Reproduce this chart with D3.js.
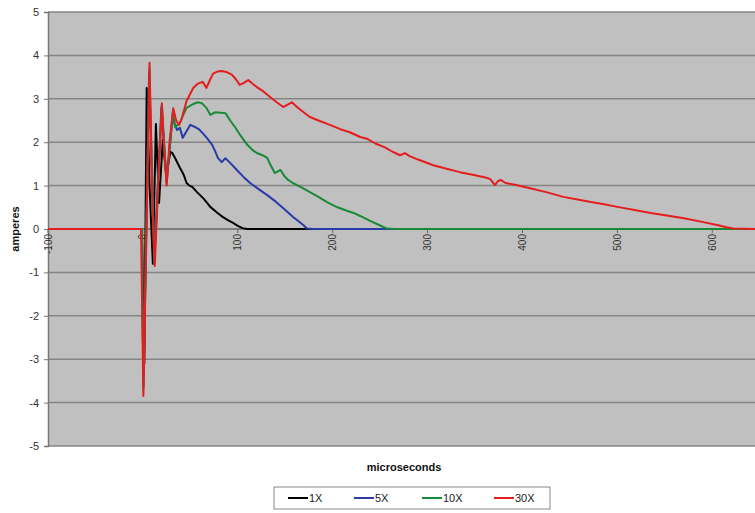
<!DOCTYPE html>
<html><head><meta charset="utf-8">
<script src="https://cdn.jsdelivr.net/npm/d3@7"></script>
<style>body{margin:0;background:#fff;} text{font-family:"Liberation Sans",Arial,sans-serif;}</style>
</head><body><svg id="c" width="755" height="513"></svg>
<script>
// ---- data (microseconds, amperes) ----
const seriesNames = ["1X", "5X", "10X", "30X"];
const seriesColors = ["#000000", "#2a3aa8", "#178a35", "#e41e1e"];
const xTicks = [-100, 0, 100, 200, 300, 400, 500, 600];
const yTicks = [-5, -4, -3, -2, -1, 0, 1, 2, 3, 4, 5];

const t1x = [-100,-1,1.5,4,7,10.5,13.7,17,21,24.5,29,31,34,39,43,46,49,52,57,64,71,78,84,90,95,100,105,110,650];
const a1x = [0,0,-3.1,3.25,1.0,-0.8,2.42,0.6,2.05,1.25,1.78,1.75,1.63,1.41,1.25,1.06,1.0,0.97,0.85,0.7,0.51,0.38,0.28,0.2,0.14,0.07,0.02,0,0];

const t5x = [-100,-1,0.5,6.5,12,19.5,25,31,33,36,39,42,46,50,55,59,63,68,73,76,79,83,87,93,99,106,113,122,131,140,148,153,158,164,169,173,180,650];
const a5x = [0,0,-3.6,3.6,-0.7,2.8,1.1,2.5,2.45,2.28,2.33,2.1,2.25,2.4,2.35,2.3,2.21,2.08,1.94,1.8,1.64,1.54,1.63,1.5,1.36,1.2,1.06,0.92,0.78,0.63,0.48,0.38,0.28,0.18,0.09,0.01,0,0];

const t10x = [-100,-1,0.5,6.8,12,20,25,31.5,34,39,42,46,53,58,62,67,71,76,82,87,92,97,103,110,115,120,126,131,135,139,145,149,153,158,167,176,185,194,205,215,222,229,240,250,257,265,650];
const a10x = [0,0,-3.7,3.7,-0.8,2.85,1.05,2.7,2.35,2.44,2.6,2.79,2.88,2.92,2.9,2.79,2.63,2.69,2.68,2.67,2.5,2.35,2.15,1.94,1.83,1.75,1.7,1.64,1.45,1.29,1.36,1.22,1.13,1.06,0.96,0.85,0.74,0.62,0.5,0.42,0.37,0.3,0.18,0.08,0.01,0,0];

const t30x = [-100,-2,0.5,3,7,10,12.5,16,20,22,25,28,32,35,38,41,46,53,58,63,67,71,74,79,83,88,94,98,102,106,111,115,120,127,134,141,148,152,157,163,170,176,185,197,208,218,229,236,245,255,263,271,276,281,290,306,320,334,350,362,366,371,374,377,382,392,408,425,443,458,472,486,500,518,535,552,570,588,605,615,622,650];
const a30x = [0,0,-3.85,-1,3.83,0.5,-0.85,1.0,2.9,2.0,1.0,2.0,2.78,2.5,2.4,2.55,2.95,3.25,3.35,3.39,3.25,3.45,3.58,3.63,3.64,3.62,3.55,3.45,3.32,3.36,3.43,3.36,3.27,3.17,3.04,2.92,2.81,2.86,2.92,2.8,2.68,2.58,2.5,2.4,2.3,2.23,2.12,2.08,1.97,1.88,1.78,1.7,1.75,1.68,1.6,1.47,1.39,1.31,1.24,1.18,1.15,1.01,1.1,1.13,1.06,1.02,0.94,0.85,0.74,0.68,0.62,0.57,0.51,0.44,0.37,0.31,0.25,0.17,0.09,0.04,0.01,0];

const times = [t1x, t5x, t10x, t30x];
const amps = [a1x, a5x, a10x, a30x];

// ---- layout ----
const svg = d3.select("#c");
const L = 48, R = 755, T = 12, B = 446;
const x = d3.scaleLinear().domain([-100, 645]).range([L, R]);
const y = d3.scaleLinear().domain([-5, 5]).range([B, T]);

svg.append("rect").attr("x", L).attr("y", T).attr("width", R - L).attr("height", B - T).attr("fill", "#c0c0c0");

// gridlines
svg.append("g").selectAll("line").data(yTicks).join("line")
  .attr("x1", L).attr("x2", R).attr("y1", d => y(d)).attr("y2", d => y(d))
  .attr("stroke", "#858585").attr("stroke-width", 1.5);

// left axis
const yAxis = svg.append("g").attr("transform", `translate(${L},0)`)
  .call(d3.axisLeft(y).tickValues(yTicks).tickSize(4).tickPadding(5).tickFormat(d => String(d)));
yAxis.select(".domain").attr("stroke", "#777").attr("stroke-width", 1.5);
yAxis.selectAll(".tick line").attr("stroke", "#777");
yAxis.selectAll("text").attr("font-size", 11).attr("fill", "#333").style("font-family", "Liberation Sans, Arial, sans-serif");

// x axis at zero
svg.append("line").attr("x1", L).attr("x2", R).attr("y1", y(0)).attr("y2", y(0)).attr("stroke", "#666").attr("stroke-width", 1);
svg.append("g").selectAll("line").data(xTicks).join("line")
  .attr("x1", d => x(d)).attr("x2", d => x(d)).attr("y1", y(0)).attr("y2", y(0) + 4)
  .attr("stroke", "#666");
svg.append("g").selectAll("text").data(xTicks).join("text")
  .attr("transform", d => `translate(${x(d)},${y(0) + 5}) rotate(-90)`)
  .attr("dy", "0.35em").attr("text-anchor", "end").attr("font-size", 10).attr("fill", "#333")
  .text(d => String(d));

// lines
svg.append("clipPath").attr("id", "clip").append("rect").attr("x", L).attr("y", T).attr("width", R - L).attr("height", B - T);
const line = d3.line().x(d => x(d[0])).y(d => y(d[1]));
const g = svg.append("g").attr("clip-path", "url(#clip)");
seriesNames.forEach((n, i) => {
  const pts = times[i].map((t, k) => [t, amps[i][k]]);
  g.append("path").datum(pts).attr("d", line).attr("fill", "none")
    .attr("stroke", seriesColors[i]).attr("stroke-width", 2).attr("stroke-linejoin", "round");
});

// axis titles
svg.append("text").attr("transform", `translate(19,229) rotate(-90)`).attr("text-anchor", "middle")
  .attr("font-size", 11).attr("font-weight", "bold").attr("fill", "#111").text("amperes");
svg.append("text").attr("x", 404).attr("y", 471).attr("text-anchor", "middle")
  .attr("font-size", 11).attr("font-weight", "bold").attr("fill", "#111").text("microseconds");

// legend
const lg = svg.append("g");
lg.append("rect").attr("x", 274).attr("y", 487).attr("width", 276).attr("height", 22)
  .attr("fill", "#fff").attr("stroke", "#888").attr("stroke-width", 1);
const legX = [288, 354, 422, 494];
seriesNames.forEach((n, i) => {
  lg.append("line").attr("x1", legX[i]).attr("x2", legX[i] + 20).attr("y1", 498).attr("y2", 498)
    .attr("stroke", seriesColors[i]).attr("stroke-width", 2);
  lg.append("text").attr("x", legX[i] + 21).attr("y", 502).attr("font-size", 11).attr("fill", "#222").text(n);
});
</script></body></html>
